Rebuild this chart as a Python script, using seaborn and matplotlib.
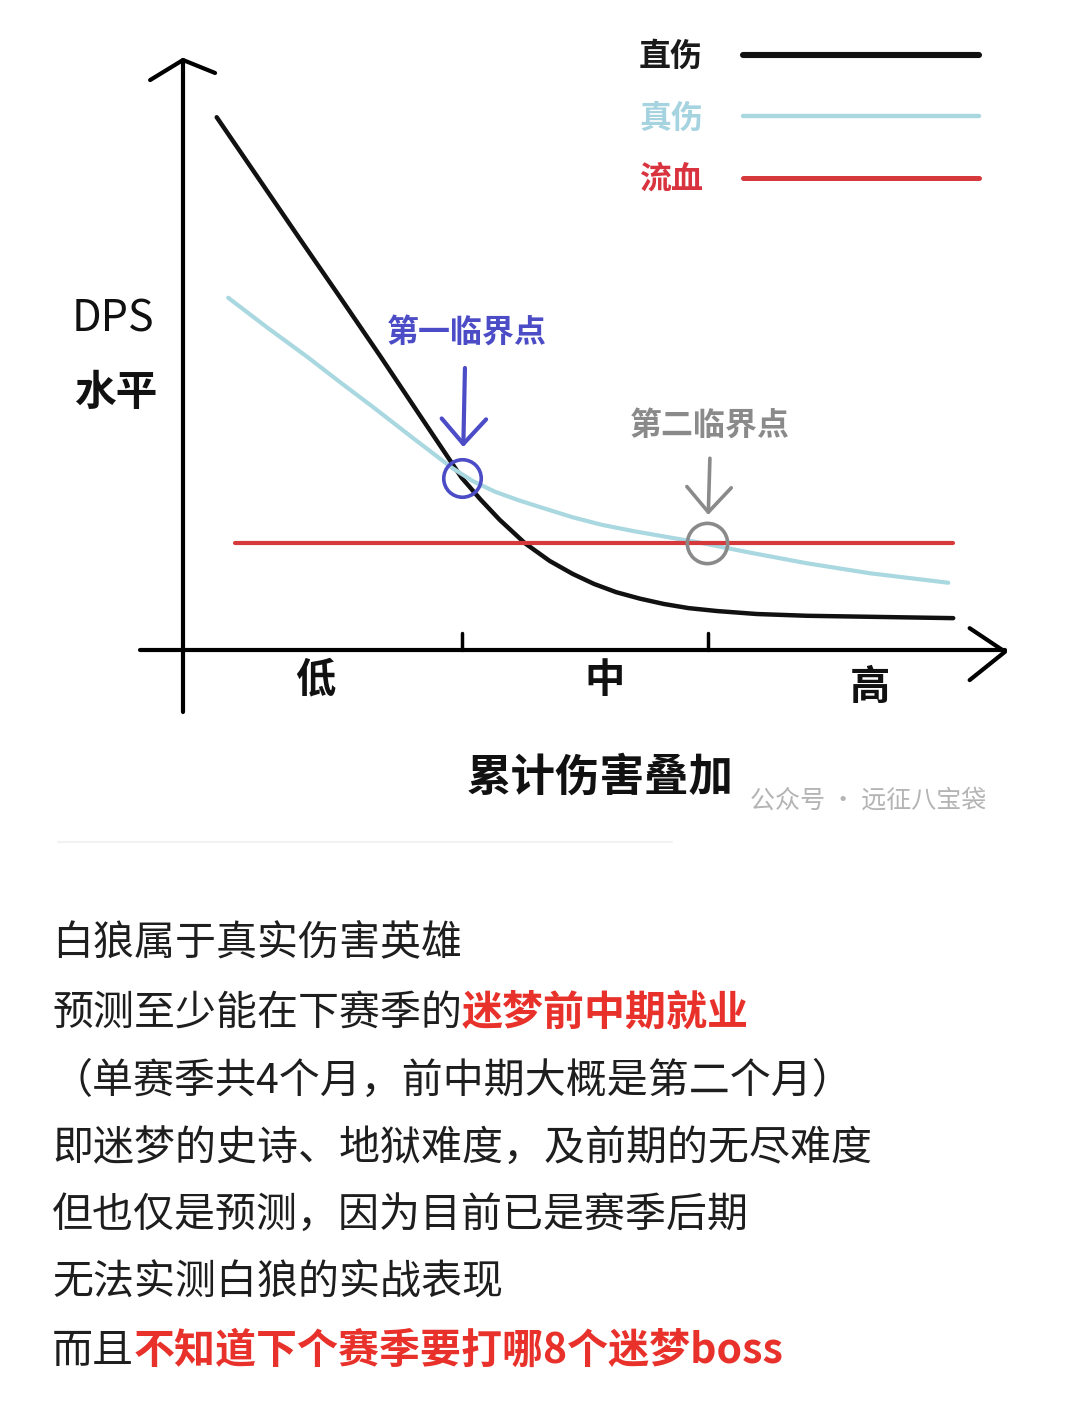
import matplotlib
matplotlib.use('Agg')
import matplotlib.pyplot as plt
import seaborn as sns

sns.set_theme(style='white')
plt.rcParams['font.family'] = ['Noto Sans CJK SC', 'DejaVu Sans']

W, H = 1080, 1425

# curves (x = 累计伤害叠加, y = DPS 水平)
direct_x = [0.41, 0.94, 1.42, 1.91, 2.40, 2.88, 3.39, 3.62, 3.85, 4.16, 4.46, 4.74,
            5.00, 5.27, 5.56, 5.85, 6.15, 6.50, 6.98, 7.59, 8.48, 9.37]
direct_y = [9.03, 7.95, 6.97, 5.98, 4.98, 3.98, 2.92, 2.55, 2.21, 1.81, 1.51, 1.29,
            1.12, 0.98, 0.87, 0.78, 0.71, 0.66, 0.61, 0.58, 0.56, 0.54]
true_x = [0.55, 1.03, 1.51, 1.91, 2.31, 2.80, 3.28, 3.53, 3.80, 4.10, 4.44, 4.74,
          5.10, 5.50, 5.87, 6.25, 6.90, 7.59, 8.36, 9.31]
true_y = [5.97, 5.46, 4.97, 4.54, 4.12, 3.59, 3.08, 2.86, 2.68, 2.53, 2.38, 2.25,
          2.12, 2.01, 1.92, 1.83, 1.65, 1.47, 1.30, 1.14]
bleed_x = [0.63, 9.37]
bleed_y = [1.81, 1.81]

series_names = ['直伤', '真伤', '流血']
series_colors = ['#111111', '#a9d8e0', '#d6393c']
label_colors = ['#1a1a1a', '#a6d3e0', '#d8333f']

tick_pos = [3.39, 6.39]
level_labels = ['低', '中', '高']
level_pos = [1.61, 5.13, 8.36]

crit_names = ['第一临界点', '第二临界点']
crit_x = [3.39, 6.37]
crit_y = [2.92, 1.81]
crit_colors = ['#4b4cc6', '#8a8a8a']

# body text below the chart
body_lines = [
    [('白狼属于真实伤害英雄', 'n')],
    [('预测至少能在下赛季的', 'n'), ('迷梦前中期就业', 'r')],
    [('（单赛季共4个月，前中期大概是第二个月）', 'n')],
    [('即迷梦的史诗、地狱难度，及前期的无尽难度', 'n')],
    [('但也仅是预测，因为目前已是赛季后期', 'n')],
    [('无法实测白狼的实战表现', 'n')],
    [('而且', 'n'), ('不知道下个赛季要打哪8个迷梦boss', 'r')],
]
body_y = [944, 1013, 1081, 1148, 1215, 1283, 1351]


def fx(x):
    return x / W


def fy(y):
    return 1 - y / H


fig = plt.figure(figsize=(10.8, 14.25), dpi=100)
fig.patch.set_facecolor('white')

# axes so that origin sits where the hand drawn axes cross
ax = fig.add_axes([fx(183), fy(650), 822 / W, 590 / H])
ax.set_xlim(0, 10)
ax.set_ylim(0, 10)
ax.axis('off')

sns.lineplot(x=direct_x, y=direct_y, color=series_colors[0], lw=3.2,
             label=series_names[0], ax=ax)
sns.lineplot(x=true_x, y=true_y, color=series_colors[1], lw=3.0,
             label=series_names[1], ax=ax)
sns.lineplot(x=bleed_x, y=bleed_y, color=series_colors[2], lw=3.0,
             label=series_names[2], ax=ax)

# axis lines with hand drawn arrow heads
ax.plot([-0.52, 10.0], [0, 0], color='black', lw=3, clip_on=False, solid_capstyle='round')
ax.plot([0, 0], [-1.05, 10.0], color='black', lw=3, clip_on=False, solid_capstyle='round')
ax.plot([9.57, 10.0, 9.57], [0.37, -0.03, -0.51], color='black', lw=3,
        clip_on=False, solid_capstyle='round', solid_joinstyle='round')
ax.plot([-0.40, 0.0, 0.39], [9.66, 10.0, 9.78], color='black', lw=3,
        clip_on=False, solid_capstyle='round', solid_joinstyle='round')
for t in tick_pos:
    ax.plot([t, t], [0, 0.29], color='black', lw=2.5, clip_on=False)

for lab, p in zip(level_labels, level_pos):
    yy = -0.64 if lab == '高' else -0.51
    ax.text(p, yy, lab, ha='center', va='center', fontsize=29,
            fontweight='bold', color='#111111')

# critical points
ax.plot(crit_x[0], crit_y[0], marker='o', ms=27, mfc='none', mec=crit_colors[0],
        mew=2.6, clip_on=False)
ax.plot(crit_x[1], crit_y[1], marker='o', ms=29, mfc='none', mec=crit_colors[1],
        mew=2.6, clip_on=False)

ax.text(3.45, 5.37, crit_names[0], ha='center', va='center', fontsize=23,
        fontweight='bold', color=crit_colors[0])
ax.text(6.41, 3.81, crit_names[1], ha='center', va='center', fontsize=23,
        fontweight='bold', color=crit_colors[1])
ax.annotate('', xy=(3.41, 3.44), xytext=(3.43, 4.78),
            arrowprops=dict(arrowstyle='->,head_length=0.9,head_width=0.8',
                            lw=3, color=crit_colors[0], mutation_scale=20,
                            shrinkA=0, shrinkB=0))
ax.annotate('', xy=(6.39, 2.29), xytext=(6.41, 3.25),
            arrowprops=dict(arrowstyle='->,head_length=0.9,head_width=0.8',
                            lw=2.6, color=crit_colors[1], mutation_scale=20,
                            shrinkA=0, shrinkB=0))

# legend: names first, lines to the right
leg = ax.legend(loc='upper left', bbox_to_anchor=(fx(639), fy(41)),
                bbox_transform=fig.transFigure, frameon=False,
                markerfirst=False, handlelength=7.4, handletextpad=1.25,
                labelspacing=0.92, borderpad=0, borderaxespad=0,
                prop={'size': 23, 'weight': 'bold'}, labelcolor=label_colors)
for h, w in zip(leg.get_lines(), [4.4, 3.2, 3.6]):
    h.set_linewidth(w)

# axis titles
fig.text(fx(113), fy(320), 'DPS', ha='center', va='center', fontsize=31,
         color='#111111')
fig.text(fx(116), fy(393), '水平', ha='center', va='center', fontsize=30,
         fontweight='bold', color='#111111')
fig.text(fx(600), fy(778), '累计伤害叠加', ha='center', va='center', fontsize=32,
         fontweight='bold', color='#111111')
fig.text(fx(750), fy(801), '公众号 · 远征八宝袋', ha='left', va='center',
         fontsize=18, color='#b4b4b4')

# faint separator
fig.add_artist(plt.Line2D([fx(58), fx(672)], [fy(842), fy(842)],
                          color='#f2f2f2', lw=1.5))

# body text, segment by segment
renderer = fig.canvas.get_renderer()
for segs, y in zip(body_lines, body_y):
    x = fx(52)
    for txt, kind in segs:
        if kind == 'r':
            t = fig.text(x, fy(y), txt, ha='left', va='center', fontsize=29.5,
                         fontweight='bold', color='#e8312b')
        else:
            t = fig.text(x, fy(y), txt, ha='left', va='center', fontsize=29.5,
                         color='#1e1e1e')
        bb = t.get_window_extent(renderer)
        x = bb.x1 / fig.bbox.width

fig.savefig('out.png', dpi=100, facecolor='white')
